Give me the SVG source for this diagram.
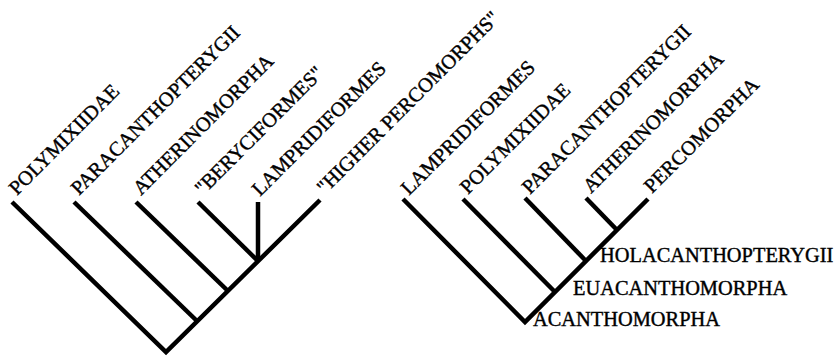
<svg xmlns="http://www.w3.org/2000/svg" width="837" height="357" viewBox="0 0 837 357">
<style>
.br{stroke:#000;stroke-width:4.5;fill:none;stroke-linecap:butt;stroke-linejoin:miter}
.lb{font-family:"Liberation Serif","Times New Roman",serif;font-size:20.4px;fill:#000;stroke:#000;stroke-width:0.4}
</style>
<rect width="837" height="357" fill="#fff"/>
<g id="connectors">
<path class="br" d="M12,202 L166,352 L320,200"/>
<path class="br" d="M74,202 L197,321"/>
<path class="br" d="M136,202 L228,291"/>
<path class="br" d="M198,202 L258,261"/>
<path class="br" d="M258,202 L258,261"/>
<path class="br" d="M403,199 L525,322 L648,199"/>
<path class="br" d="M463,199 L555,292"/>
<path class="br" d="M525,198 L586,261"/>
<path class="br" d="M586,198 L617,230"/>
</g>
<g id="left-polymixiidae"><text class="lb" transform="translate(17,196) rotate(-45)">POLYMIXIIDAE</text></g>
<g id="left-paracanthopterygii"><text class="lb" transform="translate(79,196) rotate(-45)">PARACANTHOPTERYGII</text></g>
<g id="left-atherinomorpha"><text class="lb" transform="translate(141,196) rotate(-45)">ATHERINOMORPHA</text></g>
<g id="left-beryciformes"><text class="lb" transform="translate(203,196) rotate(-45)">"BERYCIFORMES"</text></g>
<g id="left-lampridiformes"><text class="lb" transform="translate(260,197) rotate(-45)">LAMPRIDIFORMES</text></g>
<g id="left-higher-percomorphs"><text class="lb" transform="translate(325,195) rotate(-45)">"HIGHER PERCOMORPHS"</text></g>
<g id="right-lampridiformes"><text class="lb" transform="translate(409,196) rotate(-45)">LAMPRIDIFORMES</text></g>
<g id="right-polymixiidae"><text class="lb" transform="translate(468,195) rotate(-45)">POLYMIXIIDAE</text></g>
<g id="right-paracanthopterygii"><text class="lb" transform="translate(530,195) rotate(-45)">PARACANTHOPTERYGII</text></g>
<g id="right-atherinomorpha"><text class="lb" transform="translate(591,194) rotate(-45)">ATHERINOMORPHA</text></g>
<g id="right-percomorpha"><text class="lb" transform="translate(652,194) rotate(-45)">PERCOMORPHA</text></g>
<g id="holacanthopterygii"><text class="lb" x="600" y="262">HOLACANTHOPTERYGII</text></g>
<g id="euacanthomorpha"><text class="lb" x="573" y="295">EUACANTHOMORPHA</text></g>
<g id="acanthomorpha"><text class="lb" x="533" y="326">ACANTHOMORPHA</text></g>
</svg>
